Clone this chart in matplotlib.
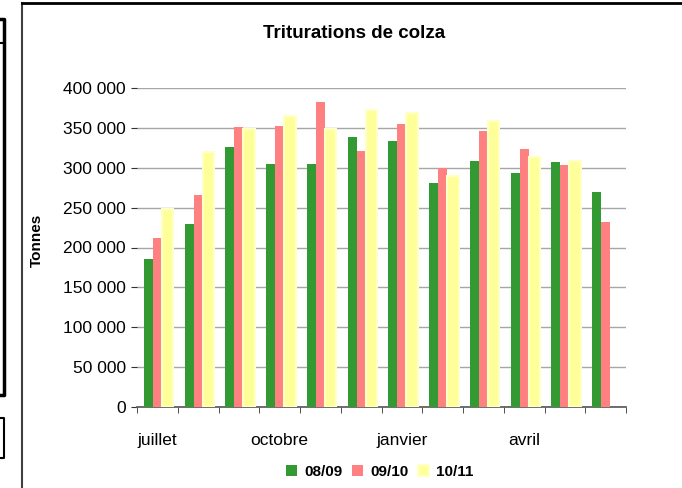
import numpy as np
import matplotlib.pyplot as plt
from matplotlib.lines import Line2D
from matplotlib.ticker import FuncFormatter, FixedLocator

plt.rcParams["font.family"] = ["Liberation Sans", "DejaVu Sans"]

# data (tonnes)
months = ["juillet", "août", "septembre", "octobre", "novembre", "décembre",
          "janvier", "février", "mars", "avril", "mai", "juin"]
shown_labels = {0: "juillet", 3: "octobre", 6: "janvier", 9: "avril"}
s0809 = [185000, 230000, 326000, 305000, 305000, 338000,
         333000, 281000, 309000, 293000, 307000, 270000]
s0910 = [212000, 266000, 351000, 352000, 383000, 321000,
         355000, 300000, 346000, 323000, 304000, 232000]
s1011 = [248000, 320000, 349000, 365000, 349000, 373000,
         369000, 290000, 359000, 313000, 308000, np.nan]
series_names = ["08/09", "09/10", "10/11"]

W, H = 682, 488
fig = plt.figure(figsize=(W / 100, H / 100), dpi=100)

# outer chart frame (cropped Excel chart area)
fig.add_artist(Line2D([22 / W, 22 / W], [0, 1 - 3 / H], color="#404040", lw=1.5))
fig.add_artist(Line2D([22 / W, 1], [1 - 3 / H, 1 - 3 / H], color="black", lw=2))
# bits of neighbouring boxes on the left edge
fig.add_artist(Line2D([0, 4 / W, 4 / W, 0], [1 - 19 / H, 1 - 19 / H, 1 - 395 / H, 1 - 395 / H],
                      color="black", lw=2.5))
fig.add_artist(Line2D([0, 4 / W], [1 - 43 / H, 1 - 43 / H], color="black", lw=1.5))
fig.add_artist(Line2D([0, 4 / W, 4 / W, 0], [1 - 418 / H, 1 - 418 / H, 1 - 458 / H, 1 - 458 / H],
                      color="black", lw=1.5))

ax = fig.add_axes([137 / W, 1 - 407 / H, (626 - 137) / W, (407 - 88) / H])

x = np.arange(len(months))
w = 0.22
ax.bar(x - w, s0809, w, color="#339933", label=series_names[0], zorder=3)
ax.bar(x, s0910, w, color="#FF8080", label=series_names[1], zorder=3)
ax.bar(x + w + 0.03, s1011, w + 0.06, color="#FFFF99", edgecolor="#FFFFC8", lw=1.5,
       label=series_names[2], zorder=3)

ax.set_xlim(-0.5, len(months) - 0.5)
ax.set_ylim(0, 400000)
ax.set_yticks(np.arange(0, 400001, 50000))
ax.yaxis.set_major_formatter(FuncFormatter(lambda v, p: f"{int(v):,}".replace(",", " ")))
ax.grid(axis="y", color="#a6a6a6", lw=1, zorder=0)

ax.xaxis.set_major_locator(FixedLocator(list(shown_labels.keys())))
ax.set_xticklabels(list(shown_labels.values()))
ax.xaxis.set_minor_locator(FixedLocator(np.arange(-0.5, len(months), 1)))
ax.tick_params(axis="x", which="major", length=0, pad=19, labelsize=12.5)
ax.tick_params(axis="x", which="minor", length=4, direction="out", color="#333333")
ax.tick_params(axis="y", length=4, color="#333333", pad=4, labelsize=12.5)

for side in ["top", "right", "left"]:
    ax.spines[side].set_visible(False)
ax.spines["bottom"].set_color("#555555")
ax.spines["bottom"].set_linewidth(1.2)

fig.text(354 / W, 1 - 33 / H, "Triturations de colza", ha="center", va="center",
         fontsize=13.5, fontweight="bold")
fig.text(37 / W, 1 - 240 / H, "Tonnes", ha="center", va="center", rotation=90,
         fontsize=11, fontweight="bold")

fig.legend(loc="center", bbox_to_anchor=(380 / W, 1 - 472 / H), ncol=3, frameon=False,
           prop={"weight": "bold", "size": 11}, handlelength=0.7, handleheight=0.7,
           handletextpad=0.5, columnspacing=0.6)

fig.savefig("out.png", dpi=100)
